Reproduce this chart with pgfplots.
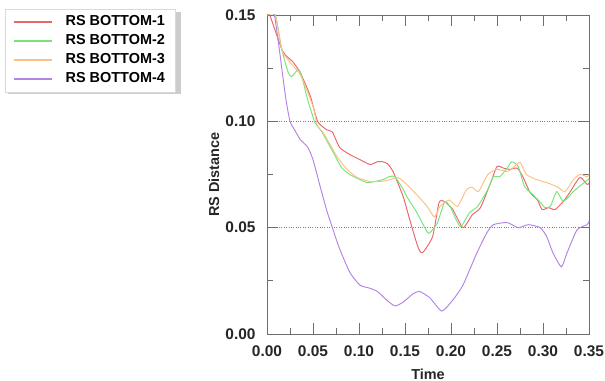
\documentclass[border=0pt]{standalone}
\usepackage{pgfplots}
\pgfplotsset{compat=1.18}
\usepackage{fontspec}
\setmainfont{Liberation Sans}
\definecolor{cred}{RGB}{235,100,105}
\definecolor{cgreen}{RGB}{120,228,120}
\definecolor{corange}{RGB}{250,192,135}
\definecolor{cpurple}{RGB}{180,132,228}
\definecolor{axgray}{RGB}{110,110,110}
\begin{document}
\begin{tikzpicture}
\useasboundingbox (0,0) rectangle (605bp,381bp);
\fill[gray!40] (8bp,286.5bp) rectangle (181bp,369bp);
\begin{axis}[
  at={(267bp,47bp)}, anchor=south west, scale only axis,
  width=322bp, height=319bp,
  xmin=0, xmax=0.35, ymin=0, ymax=0.15,
  xtick={0,0.05,0.10,0.15,0.20,0.25,0.30,0.35},
  ytick={0,0.05,0.10,0.15},
  minor x tick num=1, minor y tick num=1,
  tick align=inside,
  major tick length=11bp, minor tick length=6bp,
  axis line style={axgray, line width=0.8bp},
  tick style={axgray, line width=0.8bp},
  ymajorgrids,
  grid style={dotted, gray, line width=0.9bp},
  /pgf/number format/assume math mode=true,
  /pgf/number format/fixed,
  /pgf/number format/fixed zerofill,
  /pgf/number format/precision=2,
  tick label style={font=\bfseries\fontsize{15.5}{16}\selectfont, text=black!85},
  xticklabel style={yshift=-8bp},
  yticklabel style={xshift=-8bp},
  xlabel={Time}, ylabel={RS Distance},
  label style={font=\bfseries\fontsize{14.5}{15}\selectfont, text=black!85},
  xlabel style={at={(axis description cs:0.5,-0.125)}, anchor=center},
  ylabel style={at={(axis description cs:-0.165,0.5)}, anchor=center},
  legend cell align=left,
  legend style={at={(axis description cs:-0.8137,1.0188)}, anchor=north west,
    draw=gray!30, line width=0.5bp, fill=white,
    inner xsep=8bp, inner ysep=4bp,
    column sep=11bp, row sep=1.5bp,
    font=\bfseries\fontsize{14.5}{15}\selectfont,
    nodes={inner sep=2bp, text height=10.5bp, text depth=3bp,
      font=\bfseries\fontsize{14.5}{15}\selectfont}},
  clip=true,
]
\addlegendimage{legend image code/.code={\draw[cred, line width=1.4bp] (0bp,0bp) -- (38bp,0bp);}}
\addlegendentry{RS BOTTOM-1}
\addlegendimage{legend image code/.code={\draw[cgreen, line width=1.4bp] (0bp,0bp) -- (38bp,0bp);}}
\addlegendentry{RS BOTTOM-2}
\addlegendimage{legend image code/.code={\draw[corange, line width=1.4bp] (0bp,0bp) -- (38bp,0bp);}}
\addlegendentry{RS BOTTOM-3}
\addlegendimage{legend image code/.code={\draw[cpurple, line width=1.4bp] (0bp,0bp) -- (38bp,0bp);}}
\addlegendentry{RS BOTTOM-4}
\addplot[cred, line width=0.95bp, smooth, tension=0.35, forget plot] coordinates {
(0,0.150) (0.003,0.150) (0.017,0.133) (0.028,0.128) (0.036,0.123) (0.047,0.112)
(0.055,0.100) (0.065,0.096) (0.071,0.095) (0.079,0.0877) (0.090,0.0844) (0.101,0.082)
(0.112,0.0797) (0.120,0.081) (0.126,0.081) (0.131,0.080) (0.137,0.0764) (0.148,0.0646)
(0.155,0.054) (0.164,0.041) (0.169,0.0382) (0.180,0.0458) (0.187,0.0618) (0.193,0.0623)
(0.202,0.0585) (0.213,0.050) (0.223,0.056) (0.232,0.0594) (0.243,0.071) (0.250,0.0788)
(0.257,0.078) (0.264,0.0774) (0.272,0.078) (0.278,0.074) (0.286,0.0665) (0.294,0.063)
(0.299,0.0585) (0.306,0.0594) (0.313,0.0585) (0.322,0.0623) (0.329,0.0665) (0.340,0.0736)
(0.348,0.0703) (0.350,0.071)
};
\addplot[cgreen, line width=0.95bp, smooth, tension=0.35, forget plot] coordinates {
(0,0.150) (0.009,0.150) (0.016,0.134) (0.023,0.123) (0.027,0.121) (0.034,0.1245)
(0.038,0.121) (0.043,0.112) (0.050,0.102) (0.052,0.0995) (0.060,0.0948) (0.072,0.0854)
(0.081,0.0783) (0.090,0.075) (0.101,0.0726) (0.109,0.0712) (0.117,0.0717) (0.126,0.0726)
(0.133,0.074) (0.139,0.074) (0.148,0.068) (0.152,0.0646) (0.163,0.057) (0.174,0.048)
(0.177,0.0476) (0.185,0.052) (0.193,0.062) (0.199,0.060) (0.210,0.0505) (0.220,0.057)
(0.229,0.060) (0.240,0.068) (0.246,0.074) (0.253,0.074) (0.261,0.078) (0.266,0.081)
(0.273,0.0788) (0.280,0.0693) (0.289,0.0656) (0.299,0.061) (0.302,0.0594) (0.308,0.060)
(0.315,0.067) (0.322,0.0623) (0.333,0.067) (0.342,0.0703) (0.349,0.0726) (0.350,0.073)
};
\addplot[corange, line width=0.95bp, smooth, tension=0.35, forget plot] coordinates {
(0,0.150) (0.009,0.150) (0.017,0.1325) (0.036,0.122) (0.050,0.107) (0.055,0.0976)
(0.061,0.0948) (0.076,0.0835) (0.087,0.0774) (0.098,0.0736) (0.112,0.0717) (0.123,0.0717)
(0.134,0.0726) (0.141,0.0736) (0.145,0.073) (0.155,0.069) (0.166,0.064) (0.174,0.060)
(0.182,0.055) (0.188,0.060) (0.198,0.063) (0.207,0.060) (0.217,0.068) (0.223,0.069)
(0.230,0.067) (0.240,0.075) (0.250,0.0774) (0.261,0.0764) (0.267,0.078) (0.275,0.0807)
(0.282,0.075) (0.293,0.0726) (0.304,0.0712) (0.315,0.0693) (0.324,0.067) (0.333,0.0726)
(0.340,0.075) (0.348,0.074) (0.350,0.075)
};
\addplot[cpurple, line width=0.95bp, smooth, tension=0.35, forget plot] coordinates {
(0,0.150) (0.008,0.150) (0.020,0.112) (0.025,0.100) (0.030,0.096) (0.036,0.0915)
(0.044,0.088) (0.050,0.082) (0.058,0.069) (0.065,0.058) (0.071,0.050) (0.079,0.040)
(0.090,0.029) (0.101,0.023) (0.112,0.0215) (0.120,0.020) (0.130,0.016) (0.139,0.0132)
(0.148,0.015) (0.159,0.019) (0.166,0.020) (0.177,0.017) (0.190,0.0108) (0.202,0.016)
(0.213,0.023) (0.228,0.038) (0.239,0.0476) (0.246,0.0514) (0.261,0.0524) (0.273,0.050)
(0.284,0.0514) (0.297,0.050) (0.304,0.0458) (0.311,0.038) (0.320,0.0316) (0.326,0.038)
(0.337,0.049) (0.348,0.0514) (0.350,0.053)
};
\end{axis}
\end{tikzpicture}
\end{document}
